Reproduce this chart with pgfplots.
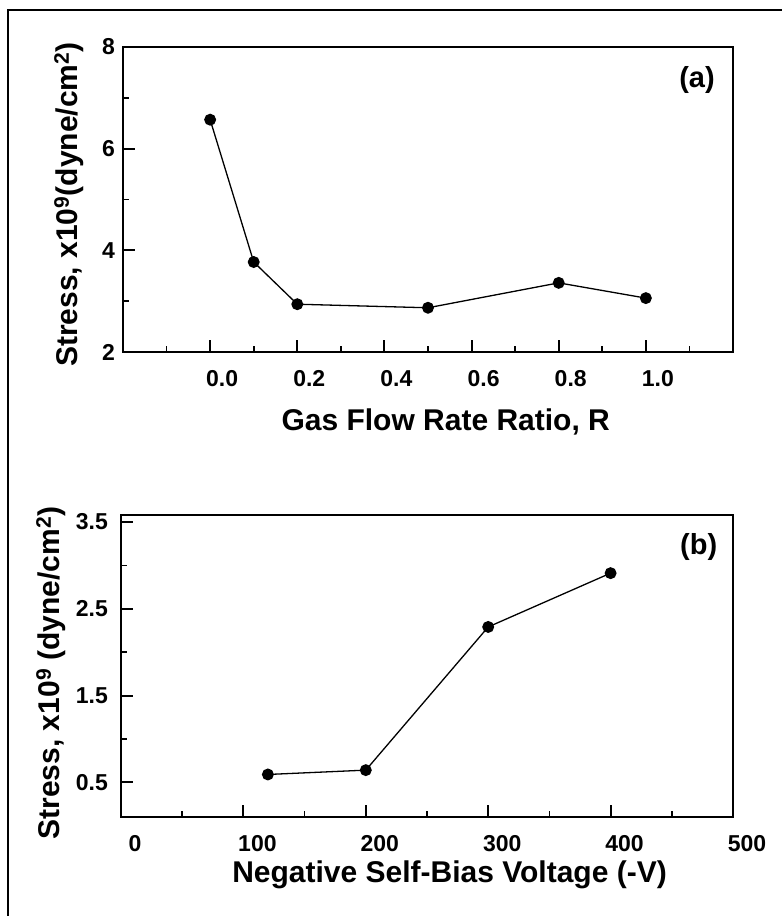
\documentclass[border=0pt]{standalone}
\usepackage{fontspec}
\setmainfont{Liberation Sans}
\usepackage{pgfplots}
\pgfplotsset{compat=1.18}
\pgfplotsset{myax/.style={
  scale only axis, anchor=south west,
  xtick pos=bottom, ytick pos=left, tick align=inside,
  major tick length=12pt, minor tick length=6pt,
  axis line style={line width=2pt},
  major tick style={line width=2pt, black},
  minor tick style={line width=1.6pt, black},
  ticklabel style={font=\fontsize{23}{26}\selectfont\bfseries},
  label style={font=\fontsize{30}{34}\selectfont\bfseries},
  clip=false,
}}
\begin{document}
\begin{tikzpicture}[x=1pt,y=1pt]
\useasboundingbox (0pt,0pt) rectangle (782pt,916pt);
\draw[line width=2.5pt] (8pt,0pt) -- (8pt,906pt) -- (782pt,906pt);
\begin{axis}[myax, at={(123pt,564pt)}, width=610pt, height=305pt,
  xmin=-0.2, xmax=1.2, ymin=2, ymax=8,
  xtick={0,0.2,0.4,0.6,0.8,1.0}, xticklabels={0.0,0.2,0.4,0.6,0.8,1.0},
  minor xtick={-0.1,0.1,0.3,0.5,0.7,0.9,1.1},
  ytick={2,4,6,8}, yticklabels={2,4,6,8}, minor ytick={3,5,7},
  xticklabel style={anchor=north, inner sep=0pt, xshift=12pt, yshift=-18pt},
  yticklabel style={anchor=east, inner sep=0pt, xshift=-8pt},
  xlabel={Gas Flow Rate Ratio, R},
  xlabel style={at={(axis description cs:0.529,-0.256)}, anchor=base},
  ylabel={Stress, x10\textsuperscript{9}(dyne/cm\textsuperscript{2})},
  ylabel style={at={(axis description cs:-0.0738,0.4836)}, anchor=base},
]
\addplot[black, line width=1.3pt, mark=*, mark size=5.3pt, mark options={solid, fill=black}]
  coordinates {(0.0,6.57) (0.1,3.77) (0.2,2.94) (0.5,2.87) (0.8,3.36) (1.0,3.06)};
\node[font=\fontsize{29}{32}\selectfont\bfseries] at (axis description cs:0.941,0.892) {(a)};
\end{axis}
\begin{axis}[myax, at={(121pt,99pt)}, width=612pt, height=302pt,
  xmin=0, xmax=500, ymin=0.1, ymax=3.58,
  xtick={0,100,200,300,400,500}, xticklabels={0,100,200,300,400,500},
  minor xtick={50,150,250,350,450},
  ytick={0.5,1.5,2.5,3.5}, yticklabels={0.5,1.5,2.5,3.5}, minor ytick={1,2,3},
  xticklabel style={anchor=north, inner sep=0pt, xshift=14pt, yshift=-18pt},
  yticklabel style={anchor=east, inner sep=0pt, xshift=-13pt},
  xlabel={Negative Self-Bias Voltage (-V)},
  xlabel style={at={(axis description cs:0.5368,-0.2185)}, anchor=base},
  ylabel={Stress, x10\textsuperscript{9} (dyne/cm\textsuperscript{2})},
  ylabel style={at={(axis description cs:-0.0997,0.4768)}, anchor=base},
]
\addplot[black, line width=1.3pt, mark=*, mark size=5.3pt, mark options={solid, fill=black}]
  coordinates {(120,0.59) (200,0.64) (300,2.29) (400,2.91)};
\node[font=\fontsize{29}{32}\selectfont\bfseries] at (axis description cs:0.944,0.894) {(b)};
\end{axis}
\end{tikzpicture}
\end{document}
